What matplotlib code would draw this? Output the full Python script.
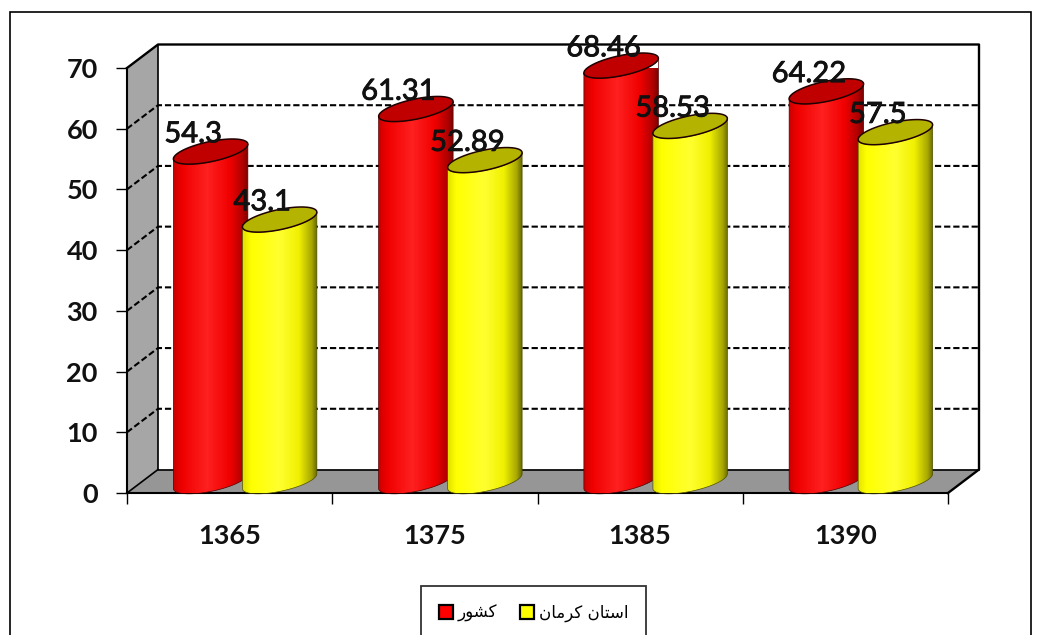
import numpy as np
import matplotlib
matplotlib.use('Agg')
import matplotlib.pyplot as plt
import matplotlib.patheffects as pe
from matplotlib.colors import LinearSegmentedColormap
from matplotlib.patches import Patch, Polygon, Rectangle

years = ['1365', '1375', '1385', '1390']
country = [54.3, 61.31, 68.46, 64.22]
kerman = [43.1, 52.89, 58.53, 57.5]
yticks = [0, 10, 20, 30, 40, 50, 60, 70]
# legend words: کشور and استان کرمان, joined forms in drawing order because
# matplotlib does not shape arabic text itself
country_label = '\uFEAD\uFEEE\uFEB8\uFB90'
kerman_label = '\uFEE5\uFE8E\uFEE3\uFEAE\uFB90 \uFEE5\uFE8E\uFE98\uFEB3\uFE8D'

W, H = 1043, 635
plt.rcParams['font.family'] = ['Lato', 'DejaVu Sans']

fig = plt.figure(figsize=(W / 100, H / 100), dpi=100)
# front plane of the fake 3d box, in pixels
left, right, top, bottom = 127, 948, 68, 493
ax = fig.add_axes([left / W, 1 - bottom / H, (right - left) / W, (bottom - top) / H])

sx = (right - left) / 4  # pixels per category
sy = (bottom - top) / 70  # pixels per unit
depth_x = 31 / sx
depth_y = 23.5 / sy

# outer frame, bottom edge runs off the picture
fig.add_artist(Rectangle((10 / W, -0.05), 1021 / W, 1.05 - 12 / H, fill=False,
                         edgecolor='black', linewidth=1.2, transform=fig.transFigure))

# walls
ax.add_patch(Polygon([(0, 0), (depth_x, depth_y), (depth_x, 70 + depth_y), (0, 70)],
                     facecolor='#A6A6A6', edgecolor='none', zorder=1, clip_on=False))
ax.add_patch(Polygon([(0, 0), (depth_x, depth_y), (4 + depth_x, depth_y), (4, 0)],
                     facecolor='#969696', edgecolor='none', zorder=1, clip_on=False))

# back grid
for v in yticks[1:-1]:
    ax.plot([0, depth_x, 4 + depth_x], [v, v + depth_y, v + depth_y], color='black',
            lw=1.5, ls=(0, (3, 1.4)), zorder=2, clip_on=False)

# box outline
ax.plot([0, depth_x, 4 + depth_x, 4 + depth_x, 4],
        [70, 70 + depth_y, 70 + depth_y, depth_y, 0], color='black', lw=1.7, zorder=2, clip_on=False)
ax.plot([depth_x, depth_x, 4 + depth_x], [70 + depth_y, depth_y, depth_y], color='black', lw=1.2, zorder=2, clip_on=False)
ax.plot([0, depth_x], [0, depth_y], color='black', lw=1.2, zorder=2, clip_on=False)

red_map = LinearSegmentedColormap.from_list('red3d', [(0, '#C80000'), (0.12, '#F00000'), (0.45, '#FF2020'),
                                                      (0.75, '#F00000'), (0.92, '#B00000'), (1, '#780000')])
yellow_map = LinearSegmentedColormap.from_list('yellow3d', [(0, '#E0E000'), (0.12, '#FFFF00'), (0.5, '#FFFF30'),
                                                            (0.75, '#F0F000'), (0.92, '#A8A800'), (1, '#606000')])

a = 38.0
b = 10.0
tilt = np.radians(12)
half_width = a / sx
t0 = np.arctan2(-b * np.sin(tilt), a * np.cos(tilt))


def ring(cx, cy, t):
    px = a * np.cos(t) * np.cos(tilt) - b * np.sin(t) * np.sin(tilt)
    py = a * np.cos(t) * np.sin(tilt) + b * np.sin(t) * np.cos(tilt)
    return np.column_stack([cx + px / sx, cy + py / sy])


def cylinder(center, value, cmap, top_color, z):
    cx = center + depth_x / 2
    low = np.linspace(t0 + np.pi, t0 + 2 * np.pi, 60)
    base = ring(cx, depth_y / 2, low)
    upper = ring(cx, value + depth_y / 2, low[::-1])
    body = Polygon(np.vstack([base, upper]), closed=True, facecolor='none', edgecolor='#500000' if cmap is red_map else '#505000',
                   lw=0.5, zorder=z + 0.1, clip_on=False)
    im = ax.imshow(np.linspace(0, 1, 200).reshape(1, -1), cmap=cmap, aspect='auto', zorder=z,
                   extent=[cx - half_width, cx + half_width, 0, value + depth_y], clip_on=True)
    ax.add_patch(body)
    im.set_clip_path(body)
    lid = ring(cx, value + depth_y / 2, np.linspace(0, 2 * np.pi, 120))
    ax.add_patch(Polygon(lid, closed=True, facecolor=top_color, edgecolor='#200000', lw=1.1,
                         zorder=z + 0.2, clip_on=False))


offset = 34.5 / sx
for i in range(len(years)):
    cylinder(i + 0.5 - offset, country[i], red_map, '#C00000', 3 + i)
    cylinder(i + 0.5 + offset, kerman[i], yellow_map, '#B3B300', 3.5 + i)

label_gap = 29 / sy
label_shift = 2 / sx
stroke = [pe.withStroke(linewidth=0.6, foreground='#111111')]
for i in range(len(years)):
    ax.text(i + 0.5 - offset - label_shift, country[i] + label_gap, str(country[i]), ha='center', va='center',
            fontsize=21, color='#111111', zorder=20, clip_on=False, path_effects=stroke)
    ax.text(i + 0.5 + offset - label_shift, kerman[i] + label_gap, str(kerman[i]), ha='center', va='center',
            fontsize=21, color='#111111', zorder=20, clip_on=False, path_effects=stroke)

ax.set_xlim(0, 4)
ax.set_ylim(0, 70)
ax.patch.set_alpha(0)
ax.spines['top'].set_visible(False)
ax.spines['right'].set_visible(False)
for s in ['left', 'bottom']:
    ax.spines[s].set_linewidth(1.5)
    ax.spines[s].set_zorder(2.5)

ax.set_yticks(yticks)
ax.set_xticks(range(5))
ax.set_xticklabels([])
ax.set_xticks([i + 0.5 for i in range(4)], minor=True)
ax.set_xticklabels(years, minor=True, fontsize=19.5, fontweight='bold', color='#111111')
ax.tick_params(axis='x', which='major', length=8, width=1)
ax.tick_params(axis='x', which='minor', length=0, pad=22)
ax.tick_params(axis='y', length=8, width=1, pad=13)
for t in ax.get_yticklabels():
    t.set_fontsize(19.5)
    t.set_fontweight('bold')
    t.set_color('#111111')

handles = [Patch(facecolor='#FF0000', edgecolor='black', lw=1.6),
           Patch(facecolor='#FFFF00', edgecolor='black', lw=1.6)]
leg = ax.legend(handles, [country_label, kerman_label], ncol=2, loc='center',
                bbox_to_anchor=(533.5 / W, 1 - 613 / H), bbox_transform=fig.transFigure,
                frameon=True, fancybox=False, framealpha=1, edgecolor='#333333', borderpad=1.05,
                handlelength=0.85, handleheight=0.85, handletextpad=0.3, columnspacing=1.35,
                prop={'family': 'DejaVu Sans', 'size': 12})
leg.set_zorder(30)
leg.get_frame().set_linewidth(1.3)

plt.savefig('out.png', dpi=100)
